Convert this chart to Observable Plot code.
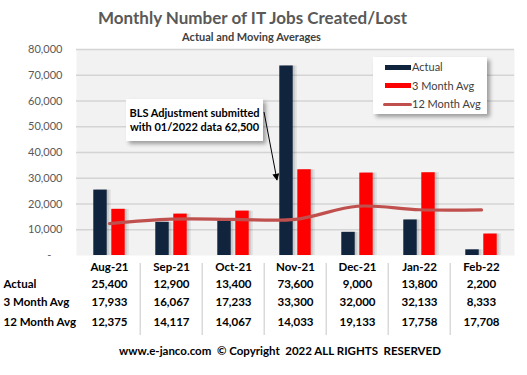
<!DOCTYPE html>
<html><head><meta charset="utf-8">
<script src="https://cdn.jsdelivr.net/npm/d3@7"></script>
<script src="https://cdn.jsdelivr.net/npm/@observablehq/plot@0.6"></script>
<style>
body{margin:0;background:#fff;font-family:Lato,sans-serif;}
#wrap{position:relative;width:527px;height:375px;overflow:hidden;background:#fff;}
#wrap svg{position:absolute;left:0;top:0;}
.ov{position:absolute;white-space:nowrap;}
#title{left:0;width:505px;top:7px;text-align:center;font-weight:700;font-size:17px;color:#595959;}
#subtitle{left:0;width:503px;top:30px;text-align:center;font-weight:700;font-size:11px;color:#404040;}
#footer{left:0;width:560px;top:344px;text-align:center;font-weight:700;font-size:11.5px;color:#000;white-space:pre;}
#legend{left:373px;top:57px;width:114px;height:57px;background:#fff;box-shadow:3px 3px 4px rgba(0,0,0,0.35);}
.li{position:absolute;left:0;height:14px;font-size:11px;color:#404040;}
.sw{position:absolute;left:12px;width:26px;}
.lt{position:absolute;left:39px;top:0;line-height:14px;}
#note{left:126px;top:99px;width:137px;height:42px;background:#fff;box-shadow:3px 3px 4px rgba(0,0,0,0.35);font-weight:700;font-size:11px;color:#000;text-align:center;line-height:14px;padding-top:7px;box-sizing:border-box;}
#arrow{position:absolute;left:0;top:0;}
</style></head><body><div id="wrap"></div>
<script>
const months = ["Aug-21","Sep-21","Oct-21","Nov-21","Dec-21","Jan-22","Feb-22"];
const actual = [25400,12900,13400,73600,9000,13800,2200];
const avg3 = [17933,16067,17233,33300,32000,32133,8333];
const avg12 = [12375,14117,14067,14033,19133,17758,17708];
const yTicks = [0,10000,20000,30000,40000,50000,60000,70000,80000];
const seriesNames = ["Actual","3 Month Avg","12 Month Avg"];
const seriesColors = ["#10243e","#ff0000","#c0504d"];
const titleText = "Monthly Number of IT Jobs Created/Lost";
const subtitleText = "Actual and Moving Averages";
const footerText = "www.e-janco.com  \u00a9 Copyright  2022 ALL RIGHTS  RESERVED";
const noteLines = ["BLS Adjustment submitted","with 01/2022 data 62,500"];

const data = months.map((m,i)=>({month:m, actual:actual[i], avg3:avg3[i], avg12:avg12[i]}));
const fmt = d3.format(",");
const W = 527, H = 375, ML = 76, MR = 13, MT = 49, MB = 120;
const bw = (W - ML - MR) / months.length, half = bw / 2;
const rows = [
  {label: seriesNames[0], key: "actual", dy: 32},
  {label: seriesNames[1], key: "avg3", dy: 50},
  {label: seriesNames[2], key: "avg12", dy: 70}
];
const tf = {fontFamily:"Lato, sans-serif", fontWeight:700, fontSize:11.5, fill:"#000"};

const marks = [
  Plot.frame({fill:"#f2f2f2", stroke:null}),
  Plot.gridY(yTicks.slice(1), {stroke:"#d4d4d4", strokeOpacity:1, strokeWidth:1.3}),
  Plot.axisY({ticks:yTicks, tickSize:0, tickPadding:14, label:null,
    tickFormat:d => d === 0 ? "-    " : fmt(d), fontSize:11, fill:"#595959", fontFamily:"Lato, sans-serif"}),
  // shadows
  Plot.barY(data, {x:"month", y:"actual", fill:"#000", fillOpacity:0.10, dx:2, insetLeft:half-16, insetRight:half+2}),
  Plot.barY(data, {x:"month", y:"actual", fill:"#000", fillOpacity:0.08, dx:4, insetLeft:half-16, insetRight:half+2}),
  Plot.barY(data, {x:"month", y:"avg3", fill:"#000", fillOpacity:0.10, dx:2, insetLeft:half+2, insetRight:half-16}),
  Plot.barY(data, {x:"month", y:"avg3", fill:"#000", fillOpacity:0.08, dx:4, insetLeft:half+2, insetRight:half-16}),
  Plot.barY(data, {x:"month", y:"actual", fill:seriesColors[0], insetLeft:half-16, insetRight:half+2}),
  Plot.barY(data, {x:"month", y:"avg3", fill:seriesColors[1], insetLeft:half+2, insetRight:half-16}),
  Plot.line(data, {x:"month", y:"avg12", stroke:seriesColors[2], strokeWidth:3.2, curve:"catmull-rom"}),
  // data table
  Plot.ruleX(months.slice(1), {dx:-half, stroke:"#d4d4d4", strokeWidth:1.3, insetTop:(H-MT-MB)+8, insetBottom:-80}),
  Plot.text(data, {x:"month", text:"month", frameAnchor:"bottom", dy:15, ...tf}),
  ...rows.map(r => Plot.text(data, {x:"month", text:d => fmt(d[r.key]), frameAnchor:"bottom", dy:r.dy, ...tf})),
  ...rows.map(r => Plot.text([r.label], {text:d => d, frameAnchor:"bottom-left", textAnchor:"start", dx:-(ML-3), dy:r.dy, ...tf}))
];

const chart = Plot.plot({
  width: W, height: H,
  marginLeft: ML, marginRight: MR, marginTop: MT, marginBottom: MB,
  x: {domain: months, padding: 0, axis: null},
  y: {domain: [0, 80000], axis: null},
  style: {fontFamily: "Lato, sans-serif", background: "transparent", overflow: "visible"},
  marks
});
const wrap = document.getElementById("wrap");
wrap.appendChild(chart);

function addDiv(id, text){ const d=document.createElement("div"); d.className="ov"; d.id=id; if(text!=null) d.textContent=text; wrap.appendChild(d); return d; }
addDiv("title", titleText);
addDiv("subtitle", subtitleText);
addDiv("footer", footerText);

const leg = addDiv("legend");
const swH = [5,5,3];
seriesNames.forEach((n,i)=>{
  const li=document.createElement("div"); li.className="li"; li.style.top=(3+i*18.5)+"px"; li.style.width="114px";
  const sw=document.createElement("div"); sw.className="sw"; sw.style.background=seriesColors[i];
  sw.style.height=swH[i]+"px"; sw.style.top=(7-swH[i]/2)+"px"; if(i===2){sw.style.borderRadius="2px";sw.style.left="10px";sw.style.width="29px";}
  const lt=document.createElement("div"); lt.className="lt"; lt.textContent=n;
  li.appendChild(sw); li.appendChild(lt); leg.appendChild(li);
});

const note = addDiv("note");
note.innerHTML = noteLines.join("<br>");

const ns="http://www.w3.org/2000/svg";
const asvg=document.createElementNS(ns,"svg"); asvg.setAttribute("id","arrow"); asvg.setAttribute("width",W); asvg.setAttribute("height",H);
asvg.innerHTML = '<defs><marker id="ah" viewBox="0 0 10 10" refX="9" refY="5" markerWidth="7" markerHeight="7" orient="auto"><path d="M0,0L10,5L0,10z" fill="#000"/></marker></defs><line x1="264" y1="112" x2="277" y2="180" stroke="#000" stroke-width="1" marker-end="url(#ah)"/>';
wrap.appendChild(asvg);
</script></body></html>
